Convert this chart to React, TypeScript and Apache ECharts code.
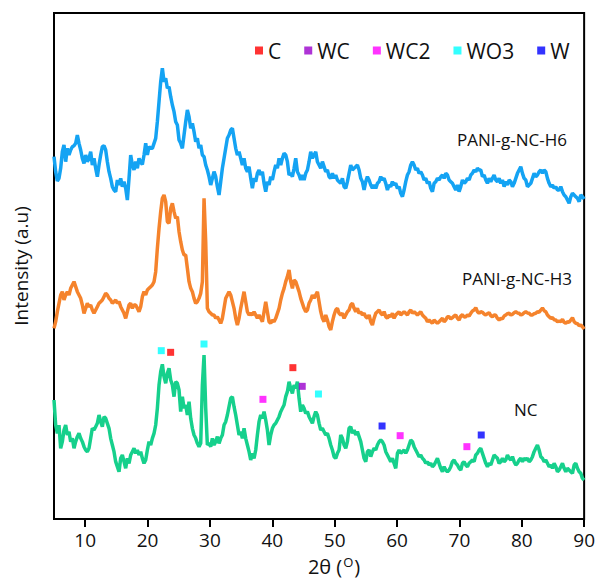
import React, { useEffect, useRef } from "react";
import * as echarts from "echarts";

// 2θ scan: evenly spaced from ANGLE_START to ANGLE_END
const ANGLE_START = 5;
const ANGLE_END = 90;

// Intensities (a.u.), one per scan step
const H6: number[] = [
  1087,1042,1014,1022,1052,1102,1122,1072,1112,1092,
  1107,1117,1120,1127,1152,1127,1107,1082,1067,1092,
  1072,1082,1102,1062,1082,1052,1027,1062,1092,1117,
  1120,1107,1072,1042,1022,997,987,982,1017,1002,
  1022,997,1012,992,957,1022,1092,1062,1047,1072,
  1052,1082,1070,1064,1092,1127,1092,1117,1112,1112,
  1127,1142,1192,1252,1312,1352,1312,1322,1292,1297,
  1267,1242,1222,1192,1182,1137,1127,
  1112,1152,1192,1227,1207,1172,1187,1162,1132,1142,
  1112,1122,1092,1087,1062,1047,1027,1002,1022,1042,
  1027,997,972,1012,1052,1082,1112,1142,1152,1167,
  1172,1142,1112,1092,1102,1082,1062,1082,1052,1042,
  1057,1022,992,1022,1012,1037,1047,1032,1042,1007,
  982,1012,1002,1027,1017,1042,1062,1052,1082,1062,
  1082,1097,1092,1072,1032,1037,1027,1052,1082,1042,
  1032,1017,1032,1017,1037,1047,1072,1102,1082,1092,
  1102,1072,1062,1052,1072,1057,1042,1047,1027,1022,
  1037,1022,1032,1017,1012,1007,1022,997,992,1012,
  1037,1062,1047,1052,1057,1062,1047,1022,1012,987,
  1012,1027,1017,1002,992,1002,992,1007,1012,1027,
  1017,1022,1007,987,1002,997,1012,1002,1007,992,
  997,977,967,987,1012,1032,1042,1062,1072,1062,
  1047,1052,1037,1042,1032,1017,1022,1007,1012,992,
  982,1007,1012,1022,1017,1027,1032,1022,1037,1032,
  1017,1012,1007,997,987,1002,982,997,1017,1007,
  1012,1022,1017,1032,1037,1047,1042,1052,1047,1047,
  1027,1032,1017,1007,1022,1012,1022,1032,1017,1012,
  1022,1007,1017,997,1012,1002,1017,1012,997,1007,
  1022,1037,1047,1057,1037,1022,1017,997,1002,1007,
  1022,1037,1027,1032,1042,1047,1037,1047,1042,1022,
  1007,997,1002,992,997,987,987,997,982,972,
  967,957,947,967,977,972,967,962,952,972,
  967,960,
];

const H3: number[] = [
  572,592,622,647,672,682,657,672,682,672,
  692,702,712,697,682,672,662,642,617,632,
  647,637,642,627,617,627,637,647,652,657,
  667,677,672,662,657,647,652,657,647,652,
  637,627,617,602,622,642,647,632,642,642,
  632,622,637,667,682,672,687,692,697,702,
  712,742,812,872,922,962,972,952,892,887,
  932,947,922,902,907,862,832,
  807,792,792,752,712,692,682,662,647,652,
  662,677,712,962,832,632,622,617,612,612,
  602,607,597,587,602,632,662,672,682,672,
  652,632,602,582,602,632,657,682,652,622,
  612,617,612,622,612,602,612,602,592,622,
  652,622,592,587,597,592,602,617,632,657,
  677,692,712,727,747,712,692,717,712,697,
  682,662,647,632,622,627,647,657,672,662,
  672,682,652,622,602,592,612,597,577,567,
  592,612,627,632,617,612,617,602,612,622,
  627,642,647,632,622,632,617,622,612,617,
  607,602,612,592,582,602,617,622,627,617,
  612,622,607,602,612,607,617,602,612,617,
  622,612,617,622,617,612,622,627,617,622,
  617,612,617,622,612,607,602,592,597,592,
  587,597,592,587,592,597,602,592,597,607,
  607,600,604,609,612,602,597,609,613,606,
  607,612,609,617,624,627,634,622,617,622,
  620,615,612,616,619,610,607,612,611,602,
  597,602,600,609,612,616,617,612,614,619,
  622,618,617,612,614,619,622,618,617,612,
  612,616,617,622,620,627,633,625,622,612,
  607,602,604,598,597,592,594,592,599,590,
  587,592,590,597,604,592,587,586,580,582,
  577,570,
];

const NC: number[] = [
  357,282,257,282,212,232,267,282,252,262,
  232,242,212,232,247,257,242,232,217,207,
  202,212,242,272,267,277,287,312,292,277,
  307,302,287,272,242,222,202,172,157,142,
  182,192,172,152,182,167,192,202,212,197,
  207,192,202,182,167,177,207,232,222,242,
  257,282,332,402,442,464,427,407,437,452,
  417,402,367,412,407,387,322,
  367,332,342,312,352,302,272,252,242,227,
  217,227,402,492,332,222,227,217,242,222,
  232,247,227,242,252,282,292,312,337,362,
  367,337,312,282,252,262,242,272,242,222,
  202,177,197,182,207,252,292,312,302,322,
  297,267,222,252,272,282,287,297,307,322,
  332,342,367,382,412,392,377,402,392,412,
  362,322,342,332,317,322,307,297,287,307,
  322,312,287,267,272,262,252,257,242,222,
  207,187,182,197,207,252,242,222,212,232,
  272,277,257,267,252,262,247,232,207,182,
  172,202,207,187,202,212,207,222,232,237,
  232,222,202,192,182,172,182,167,152,197,
  207,197,202,207,197,207,222,237,232,217,
  207,197,187,192,182,177,167,172,162,167,
  157,162,172,182,167,152,142,157,147,142,
  147,157,172,177,167,162,152,147,167,172,
  162,157,167,172,177,172,192,197,207,212,
  197,182,167,157,167,162,177,192,187,182,
  167,172,182,172,177,192,182,177,187,172,
  162,167,177,182,172,182,177,182,172,177,
  187,202,212,222,207,187,182,172,177,167,
  157,162,152,167,157,142,147,157,167,152,
  142,152,147,142,137,162,167,152,142,137,
  122,117,
];

// Phase reflections marked above the NC pattern: [2θ, marker height]
const C_PEAKS: number[][] = [[23.7, 500], [43.3, 454]];
const WC_PEAKS: number[][] = [[44.8, 398]];
const WC2_PEAKS: number[][] = [[38.5, 359], [60.5, 250], [71.2, 217]];
const WO3_PEAKS: number[][] = [[22.2, 505], [29.05, 525], [47.4, 375]];
const W_PEAKS: number[][] = [[57.6, 279], [73.5, 252]];

const X_TICKS = [10, 20, 30, 40, 50, 60, 70, 80, 90];
const Y_MAX = 1518;

const FONT = "Open Sans";

function toPairs(vals: number[]): number[][] {
  const step = (ANGLE_END - ANGLE_START) / (vals.length - 1);
  return vals.map((v, i) => [ANGLE_START + i * step, v]);
}

export default function App() {
  const ref = useRef<HTMLDivElement>(null);

  useEffect(() => {
    if (!ref.current) return;
    const chart = echarts.init(ref.current, undefined, { renderer: "svg" });

    const line = (name: string, vals: number[], color: string) => ({
      name,
      type: "line",
      data: toPairs(vals),
      showSymbol: false,
      symbol: "none",
      silent: true,
      lineStyle: { color, width: 3.5 },
      itemStyle: { color },
      z: 2,
    });

    const marks = (name: string, data: number[][], color: string) => ({
      name,
      type: "scatter",
      data,
      symbol: "rect",
      symbolSize: 7,
      itemStyle: { color },
      z: 5,
    });

    chart.setOption({
      animation: false,
      backgroundColor: "#ffffff",
      textStyle: { fontFamily: FONT },
      grid: {
        left: 54,
        right: 13,
        top: 13,
        bottom: 66,
        show: true,
        borderColor: "#000",
        borderWidth: 2,
        backgroundColor: "transparent",
      },
      legend: {
        data: ["C", "WC", "WC2", "WO3", "W"],
        left: 250,
        top: 35,
        itemWidth: 8,
        itemHeight: 8,
        itemGap: 23,
        icon: "rect",
        textStyle: { fontSize: 21, color: "#111", fontFamily: FONT },
      },
      xAxis: {
        type: "value",
        min: ANGLE_START,
        max: ANGLE_END,
        name: "2θ ({sup|O})",
        nameLocation: "middle",
        nameGap: 36,
        nameTextStyle: {
          fontSize: 20,
          color: "#111",
          fontFamily: FONT,
          padding: [0, 0, 0, 30],
          rich: {
            sup: { fontSize: 13, color: "#111", fontFamily: FONT, padding: [0, 1, 10, 1] },
          },
        },
        axisLine: { show: true, lineStyle: { color: "#000", width: 2 } },
        axisTick: {
          show: true,
          customValues: X_TICKS,
          length: 8,
          lineStyle: { color: "#000", width: 2 },
        },
        axisLabel: {
          customValues: X_TICKS,
          fontSize: 19,
          color: "#111",
          margin: 11,
          fontFamily: FONT,
        },
        splitLine: { show: false },
      },
      yAxis: {
        type: "value",
        min: 0,
        max: Y_MAX,
        name: "Intensity (a.u)",
        nameLocation: "middle",
        nameGap: 24,
        nameTextStyle: { fontSize: 19, color: "#111", fontFamily: FONT },
        axisLine: { show: true, lineStyle: { color: "#000", width: 2 } },
        axisTick: { show: false },
        axisLabel: { show: false },
        splitLine: { show: false },
      },
      graphic: [
        {
          type: "text",
          left: 457,
          top: 131,
          style: { text: "PANI-g-NC-H6", fontSize: 17, fontFamily: FONT, fill: "#111" },
        },
        {
          type: "text",
          left: 462,
          top: 270,
          style: { text: "PANI-g-NC-H3", fontSize: 17, fontFamily: FONT, fill: "#111" },
        },
        {
          type: "text",
          left: 514,
          top: 401,
          style: { text: "NC", fontSize: 17, fontFamily: FONT, fill: "#111" },
        },
      ],
      series: [
        line("PANI-g-NC-H6", H6, "#14a3f3"),
        line("PANI-g-NC-H3", H3, "#f5832c"),
        line("NC", NC, "#16d08c"),
        marks("C", C_PEAKS, "#ff0000"),
        marks("WC", WC_PEAKS, "#9a00cc"),
        marks("WC2", WC2_PEAKS, "#ff00ff"),
        marks("WO3", WO3_PEAKS, "#00ffff"),
        marks("W", W_PEAKS, "#0000ff"),
      ],
    });

    return () => chart.dispose();
  }, []);

  return (
    <div
      ref={ref}
      style={{ position: "fixed", left: 0, top: 0, width: 598, height: 585 }}
    />
  );
}
